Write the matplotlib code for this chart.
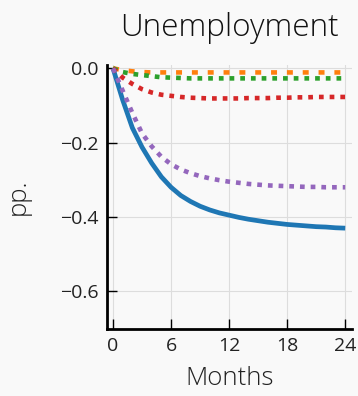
import matplotlib
matplotlib.use("Agg")
import matplotlib.pyplot as plt
import numpy as np

months = np.arange(25)

unemp_blue = [0.000, -0.085, -0.160, -0.212, -0.255, -0.292, -0.320, -0.342, -0.358, -0.371,
              -0.381, -0.389, -0.395, -0.401, -0.406, -0.410, -0.414, -0.417, -0.420, -0.422,
              -0.424, -0.426, -0.427, -0.429, -0.430]
unemp_purple = [0.000, -0.060, -0.120, -0.175, -0.210, -0.238, -0.258, -0.272, -0.282, -0.290,
                -0.296, -0.301, -0.305, -0.308, -0.311, -0.313, -0.315, -0.316, -0.317, -0.318,
                -0.319, -0.319, -0.320, -0.320, -0.320]
unemp_red = [0.000, -0.025, -0.042, -0.056, -0.065, -0.071, -0.074, -0.077, -0.079, -0.080,
             -0.081, -0.081, -0.081, -0.081, -0.080, -0.080, -0.080, -0.079, -0.079, -0.078,
             -0.078, -0.077, -0.077, -0.077, -0.077]
unemp_green = [0.000, -0.010, -0.015, -0.018, -0.021, -0.024, -0.025, -0.026, -0.027, -0.027,
               -0.027, -0.027, -0.027, -0.027, -0.027, -0.027, -0.027, -0.027, -0.027, -0.027,
               -0.027, -0.027, -0.027, -0.027, -0.027]
unemp_orange = [0.000, -0.005, -0.008, -0.010, -0.011, -0.011, -0.011, -0.011, -0.011, -0.011,
                -0.011, -0.011, -0.011, -0.011, -0.011, -0.011, -0.011, -0.011, -0.011, -0.011,
                -0.011, -0.011, -0.011, -0.011, -0.011]

x_ticks = [0, 6, 12, 18, 24]
y_ticks = [0.0, -0.2, -0.4, -0.6]

plt.rcParams["font.family"] = ["Open Sans", "DejaVu Sans"]
plt.rcParams["lines.scale_dashes"] = False

bg = "#f9f9f9"
fig = plt.figure(figsize=(3.58, 3.96), dpi=100, facecolor=bg)
ax = fig.add_axes([107 / 358, 1 - 328.5 / 396, 245 / 358, 263.5 / 396], facecolor=bg)

ax.plot(months, unemp_blue, color="#1f77b4", lw=3.4, solid_capstyle="butt", zorder=3)
ax.plot(months, unemp_orange, color="#ff7f0e", lw=3.3, dashes=(4.3, 7.1), zorder=3)
ax.plot(months, unemp_green, color="#2ca02c", lw=3.3, dashes=(3.4, 4.3), zorder=3)
ax.plot(months, unemp_red, color="#d62728", lw=3.3, dashes=(3.4, 4.3), zorder=3)
ax.plot(months, unemp_purple, color="#9467bd", lw=3.3, dashes=(3.4, 4.3), zorder=3)

ax.set_xlim(-0.62, 24.7)
ax.set_ylim(-0.70, 0.009)
ax.set_xticks(x_ticks)
ax.set_yticks(y_ticks)
ax.set_yticklabels(["0.0", "\u22120.2", "\u22120.4", "\u22120.6"])

ax.grid(True, color="#dddddd", lw=0.8, zorder=0)
ax.tick_params(direction="in", length=7, width=1, labelsize=14, pad=6, color="black",
               labelcolor="#222222")
for side in ("top", "right"):
    ax.spines[side].set_visible(False)
for side in ("left", "bottom"):
    ax.spines[side].set_linewidth(2)

ax.set_title("Unemployment", fontsize=22.7, fontweight="light", pad=21, color="#111111")
ax.set_xlabel("Months", fontsize=18.5, fontweight="light", labelpad=8, color="#222222")
ax.set_ylabel("pp.", fontsize=18.5, fontweight="light", labelpad=21, color="#222222")

fig.savefig("out.png", dpi=100, facecolor=bg)
